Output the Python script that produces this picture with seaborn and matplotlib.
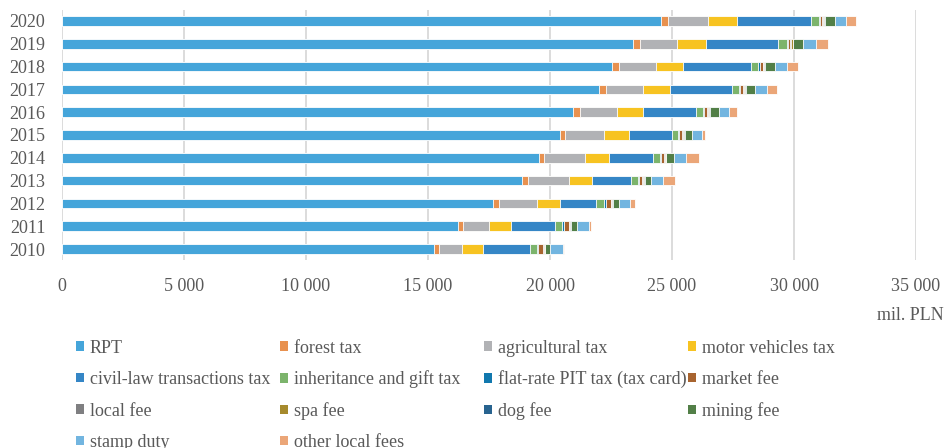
import numpy as np
import pandas as pd
import matplotlib
matplotlib.use("Agg")
import matplotlib.pyplot as plt
import seaborn as sns
from matplotlib.patches import Patch
from matplotlib.ticker import FuncFormatter

# values in mil. PLN, years 2010..2020
years = ["2010", "2011", "2012", "2013", "2014", "2015", "2016", "2017", "2018", "2019", "2020"]

rpt = [15250, 16240, 17680, 18870, 19560, 20410, 20960, 22020, 22550, 23400, 24550]
forest_tax = [190, 200, 230, 220, 200, 220, 270, 290, 290, 290, 290]
agricultural_tax = [960, 1050, 1570, 1680, 1680, 1580, 1520, 1500, 1500, 1520, 1640]
motor_vehicles_tax = [870, 900, 930, 960, 980, 1020, 1050, 1090, 1130, 1190, 1170]
civil_law_tax = [1890, 1820, 1490, 1600, 1800, 1760, 2190, 2550, 2760, 2950, 3050]
inheritance_tax = [300, 300, 310, 270, 270, 270, 290, 300, 290, 360, 330]
flat_rate_pit = [50, 50, 80, 40, 40, 40, 40, 40, 70, 40, 40]
market_fee = [200, 200, 190, 150, 140, 130, 130, 130, 120, 100, 80]
local_fee = [30, 30, 30, 30, 30, 30, 30, 30, 30, 30, 30]
spa_fee = [40, 40, 50, 50, 50, 50, 50, 50, 50, 60, 50]
dog_fee = [20, 20, 20, 20, 20, 20, 20, 20, 20, 20, 20]
mining_fee = [200, 260, 230, 260, 300, 290, 360, 400, 410, 420, 410]
stamp_duty = [520, 490, 480, 490, 510, 410, 420, 460, 490, 510, 490]
other_local_fees = [70, 80, 200, 480, 530, 110, 340, 420, 450, 490, 380]

labels = ["RPT", "forest tax", "agricultural tax", "motor vehicles tax",
          "civil-law transactions tax", "inheritance and gift tax",
          "flat-rate PIT tax (tax card)", "market fee", "local fee", "spa fee",
          "dog fee", "mining fee", "stamp duty", "other local fees"]
series = [rpt, forest_tax, agricultural_tax, motor_vehicles_tax, civil_law_tax,
          inheritance_tax, flat_rate_pit, market_fee, local_fee, spa_fee,
          dog_fee, mining_fee, stamp_duty, other_local_fees]
colors = ["#45A5DA", "#E8914F", "#B1B2B5", "#F7C321", "#3586C6", "#7CB46C",
          "#1178AE", "#A8642F", "#7F7F81", "#A68A2D", "#28638F", "#527F47",
          "#72B5E0", "#EBA678"]

df = pd.DataFrame(dict(zip(labels, series)), index=years)
order = years[::-1]  # 2020 on top
cum = df.cumsum(axis=1)

sns.set_style("white")
plt.rcParams["font.family"] = ["Liberation Serif", "DejaVu Serif"]
grey = "#595959"

fig = plt.figure(figsize=(9.46, 4.48), dpi=100)
ax = fig.add_axes([62 / 946, 1 - 260.4 / 448, (916 - 62) / 946, (260.4 - 9.6) / 448])

# stacked bars: draw cumulative totals from the last category backwards
for lab, col in zip(labels[::-1], colors[::-1]):
    d = pd.DataFrame({"year": years, "value": cum[lab].values})
    sns.barplot(data=d, x="value", y="year", order=order, orient="h",
                color=col, width=0.42, edgecolor="white", linewidth=0.6,
                saturation=1, ax=ax)

ax.set_xlim(0, 35000)
ax.set_ylim(10.5, -0.5)
ax.set_xticks(np.arange(0, 35001, 5000))
ax.xaxis.set_major_formatter(FuncFormatter(lambda v, p: f"{int(v):,}".replace(",", " ")))
ax.set_xlabel("")
ax.set_ylabel("")
ax.grid(axis="x", color="#D9D9D9", linewidth=1.3)
ax.set_axisbelow(True)
for s in ax.spines.values():
    s.set_visible(False)
ax.tick_params(axis="x", length=0, pad=13, labelsize=13, labelcolor=grey)
ax.tick_params(axis="y", length=0, pad=12, labelsize=13, labelcolor=grey)

fig.text(944 / 946, 1 - 315 / 448, "mil. PLN", ha="right", va="center",
         fontsize=13, color=grey)

# legend laid out as a fixed grid (4 columns, filled row-wise);
# the last row is partly cut by the bottom edge, as in the original
col_x = [76, 280, 484, 688]
row_y = [348, 379.5, 411, 442.5]
for i, (lab, col) in enumerate(zip(labels, colors)):
    r, c = divmod(i, 4)
    leg = fig.legend([Patch(facecolor=col, edgecolor="none")], [lab],
                     loc="center left",
                     bbox_to_anchor=(col_x[c] / 946, 1 - row_y[r] / 448),
                     frameon=False, fontsize=13, handlelength=0.46,
                     handleheight=0.46, handletextpad=0.3,
                     borderpad=0, borderaxespad=0)
    leg.get_texts()[0].set_color(grey)

fig.savefig("out.png", dpi=100)
